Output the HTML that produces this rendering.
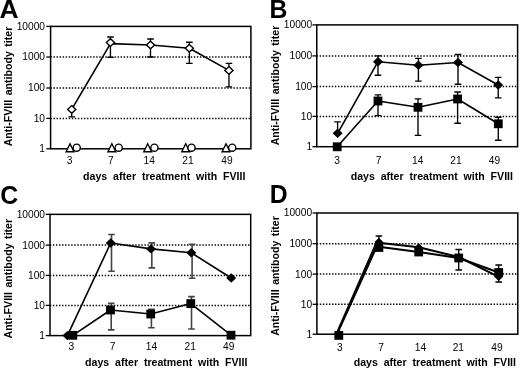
<!DOCTYPE html>
<html><head><meta charset="utf-8"><title>Figure</title>
<style>html,body{margin:0;padding:0;background:#fff}body{width:520px;height:369px;overflow:hidden;font-family:"Liberation Sans",sans-serif}</style>
</head><body>
<svg width="520" height="369" viewBox="0 0 520 369" style="display:block;will-change:transform;filter:grayscale(1)">
<rect width="520" height="369" fill="#fff"/>
<line x1="50.45" y1="57.00" x2="250.9" y2="57.00" stroke="#000" stroke-width="1.5" stroke-dasharray="1.4 1.65"/>
<line x1="50.45" y1="88.00" x2="250.9" y2="88.00" stroke="#000" stroke-width="1.5" stroke-dasharray="1.4 1.65"/>
<line x1="50.45" y1="118.40" x2="250.9" y2="118.40" stroke="#000" stroke-width="1.5" stroke-dasharray="1.4 1.65"/>
<rect x="50.6" y="26.4" width="200.30" height="122.40" fill="none" stroke="#000" stroke-width="1.5"/>
<line x1="46.300000000000004" y1="26.40" x2="50.6" y2="26.40" stroke="#000" stroke-width="1.3"/>
<text x="45.00" y="29.85" text-anchor="end" font-size="10.2" font-family="Liberation Sans, sans-serif">10000</text>
<line x1="46.300000000000004" y1="57.00" x2="50.6" y2="57.00" stroke="#000" stroke-width="1.3"/>
<text x="45.00" y="60.45" text-anchor="end" font-size="10.2" font-family="Liberation Sans, sans-serif">1000</text>
<line x1="46.300000000000004" y1="88.00" x2="50.6" y2="88.00" stroke="#000" stroke-width="1.3"/>
<text x="45.00" y="91.45" text-anchor="end" font-size="10.2" font-family="Liberation Sans, sans-serif">100</text>
<line x1="46.300000000000004" y1="118.40" x2="50.6" y2="118.40" stroke="#000" stroke-width="1.3"/>
<text x="45.00" y="121.85" text-anchor="end" font-size="10.2" font-family="Liberation Sans, sans-serif">10</text>
<line x1="46.300000000000004" y1="148.80" x2="50.6" y2="148.80" stroke="#000" stroke-width="1.3"/>
<text x="45.00" y="152.25" text-anchor="end" font-size="10.2" font-family="Liberation Sans, sans-serif">1</text>
<text x="69.5" y="163.7" text-anchor="middle" font-size="10.2" font-family="Liberation Sans, sans-serif">3</text>
<text x="110.8" y="163.7" text-anchor="middle" font-size="10.2" font-family="Liberation Sans, sans-serif">7</text>
<text x="149.2" y="163.7" text-anchor="middle" font-size="10.2" font-family="Liberation Sans, sans-serif">14</text>
<text x="187.9" y="163.7" text-anchor="middle" font-size="10.2" font-family="Liberation Sans, sans-serif">21</text>
<text x="226.9" y="163.7" text-anchor="middle" font-size="10.2" font-family="Liberation Sans, sans-serif">49</text>
<path d="M70.0 143.80L73.90 151.80L66.10 151.80Z" fill="#fff" stroke="#000" stroke-width="1.4" stroke-linejoin="miter"/>
<path d="M111.85 143.80L115.75 151.80L107.95 151.80Z" fill="#fff" stroke="#000" stroke-width="1.4" stroke-linejoin="miter"/>
<path d="M147.7 143.80L151.60 151.80L143.80 151.80Z" fill="#fff" stroke="#000" stroke-width="1.4" stroke-linejoin="miter"/>
<path d="M185.7 143.80L189.60 151.80L181.80 151.80Z" fill="#fff" stroke="#000" stroke-width="1.4" stroke-linejoin="miter"/>
<path d="M226.0 143.80L229.90 151.80L222.10 151.80Z" fill="#fff" stroke="#000" stroke-width="1.4" stroke-linejoin="miter"/>
<circle cx="76.7" cy="147.70000000000002" r="3.6" fill="#fff" stroke="#000" stroke-width="1.4"/>
<circle cx="118.7" cy="147.70000000000002" r="3.6" fill="#fff" stroke="#000" stroke-width="1.4"/>
<circle cx="154.4" cy="147.70000000000002" r="3.6" fill="#fff" stroke="#000" stroke-width="1.4"/>
<circle cx="191.5" cy="147.70000000000002" r="3.6" fill="#fff" stroke="#000" stroke-width="1.4"/>
<circle cx="232.2" cy="147.70000000000002" r="3.6" fill="#fff" stroke="#000" stroke-width="1.4"/>
<path d="M71.7 109.4V116.8M68.4 116.8H75.0" stroke="#000" stroke-width="1.35" fill="none"/>
<path d="M110.45 42.6V37.0M107.15 37.0H113.75" stroke="#000" stroke-width="1.35" fill="none"/>
<path d="M110.45 42.6V57.3M107.15 57.3H113.75" stroke="#000" stroke-width="1.35" fill="none"/>
<path d="M150.5 45V39M147.2 39H153.8" stroke="#000" stroke-width="1.35" fill="none"/>
<path d="M150.5 45V57M147.2 57H153.8" stroke="#000" stroke-width="1.35" fill="none"/>
<path d="M189.35 48.3V42.2M186.04999999999998 42.2H192.65" stroke="#000" stroke-width="1.35" fill="none"/>
<path d="M189.35 48.3V63.3M186.04999999999998 63.3H192.65" stroke="#000" stroke-width="1.35" fill="none"/>
<path d="M228.95 70.4V63.3M225.64999999999998 63.3H232.25" stroke="#000" stroke-width="1.35" fill="none"/>
<path d="M228.95 70.4V86.9M225.64999999999998 86.9H232.25" stroke="#000" stroke-width="1.35" fill="none"/>
<path d="M71.7 109.4 L110.45 43.6 L150.5 45 L189.35 48.3 L228.95 70.4" stroke="#000" stroke-width="1.6" fill="none" stroke-linejoin="round"/>
<path d="M71.7 105.60L75.80 109.4L71.7 113.20L67.60 109.4Z" fill="#fff" stroke="#000" stroke-width="1.4"/>
<path d="M110.45 38.80L114.55 42.6L110.45 46.40L106.35 42.6Z" fill="#fff" stroke="#000" stroke-width="1.4"/>
<path d="M150.5 41.20L154.60 45L150.5 48.80L146.40 45Z" fill="#fff" stroke="#000" stroke-width="1.4"/>
<path d="M189.35 44.50L193.45 48.3L189.35 52.10L185.25 48.3Z" fill="#fff" stroke="#000" stroke-width="1.4"/>
<path d="M228.95 66.60L233.05 70.4L228.95 74.20L224.85 70.4Z" fill="#fff" stroke="#000" stroke-width="1.4"/>
<text transform="translate(-0.45 17.8) scale(1.066 1.05)" font-size="24.8" font-weight="bold" font-family="Liberation Sans, sans-serif">A</text>
<text transform="translate(11.9 146.3) rotate(-90)" font-size="10.6" font-weight="bold" word-spacing="1.55" font-family="Liberation Sans, sans-serif">Anti-FVIII antibody titer</text>
<text x="83.1" y="179.8" font-size="10.6" font-weight="bold" word-spacing="2.9" font-family="Liberation Sans, sans-serif">days after treatment with FVIII</text>
<line x1="316.60" y1="55.90" x2="517.6" y2="55.90" stroke="#000" stroke-width="1.5" stroke-dasharray="1.4 1.65"/>
<line x1="316.60" y1="86.60" x2="517.6" y2="86.60" stroke="#000" stroke-width="1.5" stroke-dasharray="1.4 1.65"/>
<line x1="316.60" y1="116.40" x2="517.6" y2="116.40" stroke="#000" stroke-width="1.5" stroke-dasharray="1.4 1.65"/>
<rect x="316.75" y="24.9" width="200.85" height="121.80" fill="none" stroke="#000" stroke-width="1.5"/>
<line x1="312.45" y1="24.90" x2="316.75" y2="24.90" stroke="#000" stroke-width="1.3"/>
<text x="312.15" y="28.35" text-anchor="end" font-size="10.2" font-family="Liberation Sans, sans-serif">10000</text>
<line x1="312.45" y1="55.90" x2="316.75" y2="55.90" stroke="#000" stroke-width="1.3"/>
<text x="312.15" y="59.35" text-anchor="end" font-size="10.2" font-family="Liberation Sans, sans-serif">1000</text>
<line x1="312.45" y1="86.60" x2="316.75" y2="86.60" stroke="#000" stroke-width="1.3"/>
<text x="312.15" y="90.05" text-anchor="end" font-size="10.2" font-family="Liberation Sans, sans-serif">100</text>
<line x1="312.45" y1="116.40" x2="316.75" y2="116.40" stroke="#000" stroke-width="1.3"/>
<text x="312.15" y="119.85" text-anchor="end" font-size="10.2" font-family="Liberation Sans, sans-serif">10</text>
<line x1="312.45" y1="146.70" x2="316.75" y2="146.70" stroke="#000" stroke-width="1.3"/>
<text x="312.15" y="150.15" text-anchor="end" font-size="10.2" font-family="Liberation Sans, sans-serif">1</text>
<text x="337" y="163.7" text-anchor="middle" font-size="10.2" font-family="Liberation Sans, sans-serif">3</text>
<text x="378.5" y="163.7" text-anchor="middle" font-size="10.2" font-family="Liberation Sans, sans-serif">7</text>
<text x="417.7" y="163.7" text-anchor="middle" font-size="10.2" font-family="Liberation Sans, sans-serif">14</text>
<text x="456" y="163.7" text-anchor="middle" font-size="10.2" font-family="Liberation Sans, sans-serif">21</text>
<text x="494.4" y="163.7" text-anchor="middle" font-size="10.2" font-family="Liberation Sans, sans-serif">49</text>
<path d="M378.0 101.0V94.8M374.7 94.8H381.3" stroke="#000" stroke-width="1.35" fill="none"/>
<path d="M378.0 101.0V115.6M374.7 115.6H381.3" stroke="#000" stroke-width="1.35" fill="none"/>
<path d="M418.0 107.3V98.8M414.7 98.8H421.3" stroke="#000" stroke-width="1.35" fill="none"/>
<path d="M418.0 107.3V135.4M414.7 135.4H421.3" stroke="#000" stroke-width="1.35" fill="none"/>
<path d="M457.6 99V92M454.3 92H460.90000000000003" stroke="#000" stroke-width="1.35" fill="none"/>
<path d="M457.6 99V123.2M454.3 123.2H460.90000000000003" stroke="#000" stroke-width="1.35" fill="none"/>
<path d="M498.3 123.8V117.2M495.0 117.2H501.6" stroke="#000" stroke-width="1.35" fill="none"/>
<path d="M498.3 123.8V140.2M495.0 140.2H501.6" stroke="#000" stroke-width="1.35" fill="none"/>
<path d="M337.2 146.8 L378.0 101.0 L418.0 107.3 L457.6 99 L498.3 123.8" stroke="#000" stroke-width="1.6" fill="none" stroke-linejoin="round"/>
<rect x="332.80" y="142.40" width="8.8" height="8.8" fill="#000"/>
<rect x="373.60" y="96.60" width="8.8" height="8.8" fill="#000"/>
<rect x="413.60" y="102.90" width="8.8" height="8.8" fill="#000"/>
<rect x="453.20" y="94.60" width="8.8" height="8.8" fill="#000"/>
<rect x="493.90" y="119.40" width="8.8" height="8.8" fill="#000"/>
<path d="M337.6 133.3V121.8M334.3 121.8H340.90000000000003" stroke="#000" stroke-width="1.35" fill="none"/>
<path d="M378.0 61.7V55.9M374.7 55.9H381.3" stroke="#000" stroke-width="1.35" fill="none"/>
<path d="M378.0 61.7V75.2M374.7 75.2H381.3" stroke="#000" stroke-width="1.35" fill="none"/>
<path d="M418.4 65.2V58.4M415.09999999999997 58.4H421.7" stroke="#000" stroke-width="1.35" fill="none"/>
<path d="M418.4 65.2V81.1M415.09999999999997 81.1H421.7" stroke="#000" stroke-width="1.35" fill="none"/>
<path d="M458 62.5V54.5M454.7 54.5H461.3" stroke="#000" stroke-width="1.35" fill="none"/>
<path d="M458 62.5V84.2M454.7 84.2H461.3" stroke="#000" stroke-width="1.35" fill="none"/>
<path d="M498.2 85V77.4M494.9 77.4H501.5" stroke="#000" stroke-width="1.35" fill="none"/>
<path d="M498.2 85V97.9M494.9 97.9H501.5" stroke="#000" stroke-width="1.35" fill="none"/>
<path d="M337.6 133.3 L378.0 61.7 L418.4 65.2 L458 62.5 L498.2 85" stroke="#000" stroke-width="1.6" fill="none" stroke-linejoin="round"/>
<path d="M337.6 128.60L342.60 133.3L337.6 138.00L332.60 133.3Z" fill="#000"/>
<path d="M378.0 57.00L383.00 61.7L378.0 66.40L373.00 61.7Z" fill="#000"/>
<path d="M418.4 60.50L423.40 65.2L418.4 69.90L413.40 65.2Z" fill="#000"/>
<path d="M458 57.80L463.00 62.5L458 67.20L453.00 62.5Z" fill="#000"/>
<path d="M498.2 80.30L503.20 85L498.2 89.70L493.20 85Z" fill="#000"/>
<text transform="translate(269.6 17.8) scale(1.0 1.05)" font-size="24.8" font-weight="bold" font-family="Liberation Sans, sans-serif">B</text>
<text transform="translate(278.6 145.3) rotate(-90)" font-size="10.6" font-weight="bold" word-spacing="1.55" font-family="Liberation Sans, sans-serif">Anti-FVIII antibody titer</text>
<text x="350.7" y="179.8" font-size="10.6" font-weight="bold" word-spacing="2.9" font-family="Liberation Sans, sans-serif">days after treatment with FVIII</text>
<line x1="49.85" y1="245.10" x2="250.7" y2="245.10" stroke="#000" stroke-width="1.5" stroke-dasharray="1.4 1.65"/>
<line x1="49.85" y1="275.40" x2="250.7" y2="275.40" stroke="#000" stroke-width="1.5" stroke-dasharray="1.4 1.65"/>
<line x1="49.85" y1="305.40" x2="250.7" y2="305.40" stroke="#000" stroke-width="1.5" stroke-dasharray="1.4 1.65"/>
<rect x="50.0" y="214.35" width="200.70" height="121.25" fill="none" stroke="#000" stroke-width="1.5"/>
<line x1="45.7" y1="214.35" x2="50.0" y2="214.35" stroke="#000" stroke-width="1.3"/>
<text x="45.00" y="217.80" text-anchor="end" font-size="10.2" font-family="Liberation Sans, sans-serif">10000</text>
<line x1="45.7" y1="245.10" x2="50.0" y2="245.10" stroke="#000" stroke-width="1.3"/>
<text x="45.00" y="248.55" text-anchor="end" font-size="10.2" font-family="Liberation Sans, sans-serif">1000</text>
<line x1="45.7" y1="275.40" x2="50.0" y2="275.40" stroke="#000" stroke-width="1.3"/>
<text x="45.00" y="278.85" text-anchor="end" font-size="10.2" font-family="Liberation Sans, sans-serif">100</text>
<line x1="45.7" y1="305.40" x2="50.0" y2="305.40" stroke="#000" stroke-width="1.3"/>
<text x="45.00" y="308.85" text-anchor="end" font-size="10.2" font-family="Liberation Sans, sans-serif">10</text>
<line x1="45.7" y1="335.60" x2="50.0" y2="335.60" stroke="#000" stroke-width="1.3"/>
<text x="45.00" y="339.05" text-anchor="end" font-size="10.2" font-family="Liberation Sans, sans-serif">1</text>
<text x="71.3" y="350.4" text-anchor="middle" font-size="10.2" font-family="Liberation Sans, sans-serif">3</text>
<text x="112.5" y="350.4" text-anchor="middle" font-size="10.2" font-family="Liberation Sans, sans-serif">7</text>
<text x="151.5" y="350.4" text-anchor="middle" font-size="10.2" font-family="Liberation Sans, sans-serif">14</text>
<text x="190.2" y="350.4" text-anchor="middle" font-size="10.2" font-family="Liberation Sans, sans-serif">21</text>
<text x="228.7" y="350.4" text-anchor="middle" font-size="10.2" font-family="Liberation Sans, sans-serif">49</text>
<path d="M111.2 310V303.4M107.9 303.4H114.5" stroke="#444" stroke-width="1.6" fill="none"/>
<path d="M111.2 310V329.9M107.9 329.9H114.5" stroke="#444" stroke-width="1.6" fill="none"/>
<path d="M151.4 314.0V309.3M148.1 309.3H154.70000000000002" stroke="#444" stroke-width="1.6" fill="none"/>
<path d="M151.4 314.0V327.8M148.1 327.8H154.70000000000002" stroke="#444" stroke-width="1.6" fill="none"/>
<path d="M191.5 303.6V296.6M188.2 296.6H194.8" stroke="#444" stroke-width="1.6" fill="none"/>
<path d="M191.5 303.6V329M188.2 329H194.8" stroke="#444" stroke-width="1.6" fill="none"/>
<path d="M72.8 335.3 L110.5 310 L150.7 314.0 L190.8 303.6 L231 335.2" stroke="#000" stroke-width="1.6" fill="none" stroke-linejoin="round"/>
<rect x="68.40" y="330.90" width="8.8" height="8.8" fill="#000"/>
<rect x="106.10" y="305.60" width="8.8" height="8.8" fill="#000"/>
<rect x="146.30" y="309.60" width="8.8" height="8.8" fill="#000"/>
<rect x="186.40" y="299.20" width="8.8" height="8.8" fill="#000"/>
<rect x="226.60" y="330.80" width="8.8" height="8.8" fill="#000"/>
<path d="M111.5 243V234.5M108.2 234.5H114.8" stroke="#444" stroke-width="1.6" fill="none"/>
<path d="M111.5 243V271.2M108.2 271.2H114.8" stroke="#444" stroke-width="1.6" fill="none"/>
<path d="M151.8 248.9V242.9M148.5 242.9H155.10000000000002" stroke="#444" stroke-width="1.6" fill="none"/>
<path d="M151.8 248.9V267.9M148.5 267.9H155.10000000000002" stroke="#444" stroke-width="1.6" fill="none"/>
<path d="M192.1 252.8V244.3M188.79999999999998 244.3H195.4" stroke="#444" stroke-width="1.6" fill="none"/>
<path d="M192.1 252.8V278.2M188.79999999999998 278.2H195.4" stroke="#444" stroke-width="1.6" fill="none"/>
<path d="M67.4 335.6 L110.7 243 L151.0 248.9 L191.3 252.8 L231.2 278" stroke="#000" stroke-width="1.6" fill="none" stroke-linejoin="round"/>
<path d="M67.4 330.90L72.40 335.6L67.4 340.30L62.40 335.6Z" fill="#000"/>
<path d="M110.7 238.30L115.70 243L110.7 247.70L105.70 243Z" fill="#000"/>
<path d="M151.0 244.20L156.00 248.9L151.0 253.60L146.00 248.9Z" fill="#000"/>
<path d="M191.3 248.10L196.30 252.8L191.3 257.50L186.30 252.8Z" fill="#000"/>
<path d="M231.2 273.30L236.20 278L231.2 282.70L226.20 278Z" fill="#000"/>
<text transform="translate(0.15 203.7) scale(1.0 1.05)" font-size="24.8" font-weight="bold" font-family="Liberation Sans, sans-serif">C</text>
<text transform="translate(11.7 338.5) rotate(-90)" font-size="10.6" font-weight="bold" word-spacing="1.55" font-family="Liberation Sans, sans-serif">Anti-FVIII antibody titer</text>
<text x="85.1" y="366.1" font-size="10.6" font-weight="bold" word-spacing="2.9" font-family="Liberation Sans, sans-serif">days after treatment with FVIII</text>
<line x1="316.75" y1="243.70" x2="517.8" y2="243.70" stroke="#000" stroke-width="1.5" stroke-dasharray="1.4 1.65"/>
<line x1="316.75" y1="274.10" x2="517.8" y2="274.10" stroke="#000" stroke-width="1.5" stroke-dasharray="1.4 1.65"/>
<line x1="316.75" y1="304.30" x2="517.8" y2="304.30" stroke="#000" stroke-width="1.5" stroke-dasharray="1.4 1.65"/>
<rect x="316.9" y="213.0" width="200.90" height="121.20" fill="none" stroke="#000" stroke-width="1.5"/>
<line x1="312.59999999999997" y1="213.00" x2="316.9" y2="213.00" stroke="#000" stroke-width="1.3"/>
<text x="312.10" y="216.45" text-anchor="end" font-size="10.2" font-family="Liberation Sans, sans-serif">10000</text>
<line x1="312.59999999999997" y1="243.70" x2="316.9" y2="243.70" stroke="#000" stroke-width="1.3"/>
<text x="312.10" y="247.15" text-anchor="end" font-size="10.2" font-family="Liberation Sans, sans-serif">1000</text>
<line x1="312.59999999999997" y1="274.10" x2="316.9" y2="274.10" stroke="#000" stroke-width="1.3"/>
<text x="312.10" y="277.55" text-anchor="end" font-size="10.2" font-family="Liberation Sans, sans-serif">100</text>
<line x1="312.59999999999997" y1="304.30" x2="316.9" y2="304.30" stroke="#000" stroke-width="1.3"/>
<text x="312.10" y="307.75" text-anchor="end" font-size="10.2" font-family="Liberation Sans, sans-serif">10</text>
<line x1="312.59999999999997" y1="334.20" x2="316.9" y2="334.20" stroke="#000" stroke-width="1.3"/>
<text x="312.10" y="337.65" text-anchor="end" font-size="10.2" font-family="Liberation Sans, sans-serif">1</text>
<text x="339.8" y="350.5" text-anchor="middle" font-size="10.2" font-family="Liberation Sans, sans-serif">3</text>
<text x="381.2" y="350.5" text-anchor="middle" font-size="10.2" font-family="Liberation Sans, sans-serif">7</text>
<text x="420.4" y="350.5" text-anchor="middle" font-size="10.2" font-family="Liberation Sans, sans-serif">14</text>
<text x="458.3" y="350.5" text-anchor="middle" font-size="10.2" font-family="Liberation Sans, sans-serif">21</text>
<text x="497" y="350.5" text-anchor="middle" font-size="10.2" font-family="Liberation Sans, sans-serif">49</text>
<path d="M458.7 258V249.5M455.4 249.5H462.0" stroke="#000" stroke-width="1.35" fill="none"/>
<path d="M458.7 258V270M455.4 270H462.0" stroke="#000" stroke-width="1.35" fill="none"/>
<path d="M498.7 272.5V265M495.4 265H502.0" stroke="#000" stroke-width="1.35" fill="none"/>
<path d="M336.7 334.9 L376.7 246.6 L418.7 252 L458.7 258 L498.7 272.5" stroke="#000" stroke-width="2.0" fill="none" stroke-linejoin="round"/>
<rect x="334.40" y="331.00" width="8.8" height="8.8" fill="#000"/>
<rect x="374.50" y="243.10" width="8.8" height="8.8" fill="#000"/>
<rect x="414.30" y="247.60" width="8.8" height="8.8" fill="#000"/>
<rect x="454.30" y="253.60" width="8.8" height="8.8" fill="#000"/>
<rect x="494.30" y="268.10" width="8.8" height="8.8" fill="#000"/>
<path d="M378.9 242V236M375.59999999999997 236H382.2" stroke="#000" stroke-width="1.35" fill="none"/>
<path d="M498.7 276.8V282M495.4 282H502.0" stroke="#000" stroke-width="1.35" fill="none"/>
<path d="M336.4 334.2 L376.6 242.4 L418.7 247.3 L458.7 257 L498.7 276.8" stroke="#000" stroke-width="2.0" fill="none" stroke-linejoin="round"/>
<path d="M339 329.80L343.40 334L339 338.20L334.60 334Z" fill="#000"/>
<path d="M378.9 237.80L383.30 242L378.9 246.20L374.50 242Z" fill="#000"/>
<path d="M418.7 243.30L423.10 247.5L418.7 251.70L414.30 247.5Z" fill="#000"/>
<path d="M458.7 252.80L463.10 257L458.7 261.20L454.30 257Z" fill="#000"/>
<path d="M498.7 272.60L503.10 276.8L498.7 281.00L494.30 276.8Z" fill="#000"/>
<text transform="translate(269.7 203.3) scale(1.0 1.05)" font-size="24.8" font-weight="bold" font-family="Liberation Sans, sans-serif">D</text>
<text transform="translate(278.6 335.8) rotate(-90)" font-size="10.6" font-weight="bold" word-spacing="1.55" font-family="Liberation Sans, sans-serif">Anti-FVIII antibody titer</text>
<text x="353.7" y="366.2" font-size="10.6" font-weight="bold" word-spacing="2.9" font-family="Liberation Sans, sans-serif">days after treatment with FVIII</text>
</svg>
</body></html>
